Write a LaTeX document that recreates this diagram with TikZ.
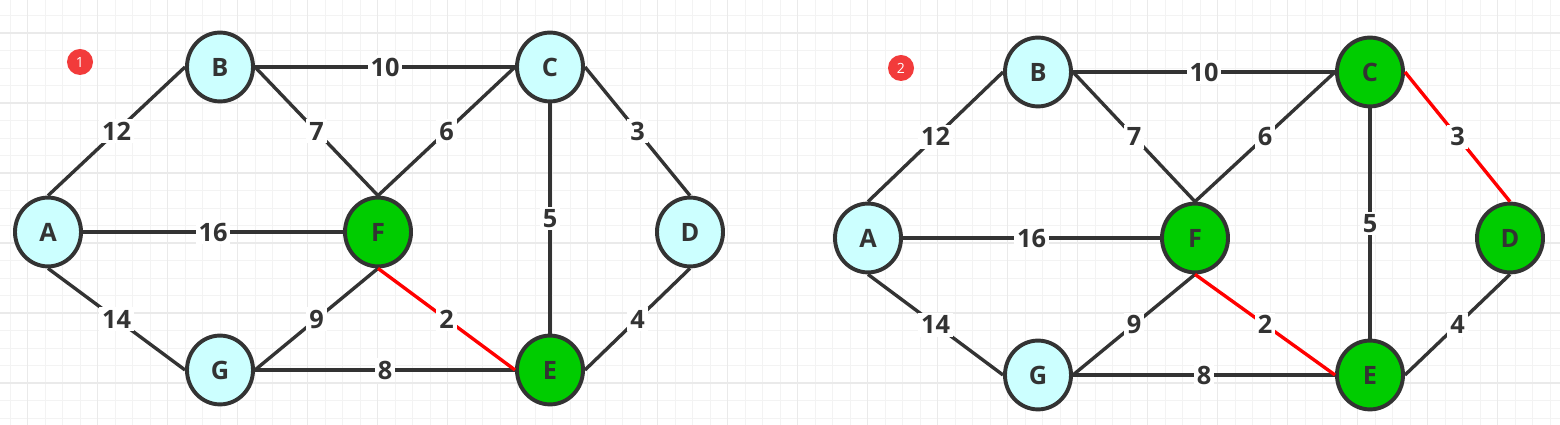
\documentclass[tikz,border=0pt]{standalone}
\usepackage{fontspec}
\setmainfont{Open Sans}
\usetikzlibrary{shapes.geometric}
\definecolor{ink}{HTML}{333333}
\definecolor{cyanfill}{HTML}{CCFFFF}
\definecolor{greenfill}{HTML}{00CC00}
\definecolor{redline}{HTML}{FF0000}
\definecolor{badgered}{HTML}{F23B3B}
\definecolor{gridminor}{HTML}{F3F3F3}
\definecolor{gridmajor}{HTML}{EAEAEA}
\tikzset{
  vertex/.style={ellipse, draw=ink, line width=2.8pt, minimum width=1.65cm, minimum height=1.72cm, inner sep=0pt, text=ink, font=\fontsize{18}{18}\selectfont\bfseries},
  edge/.style={draw=ink, line width=2.4pt},
  weight/.style={fill=white, inner sep=2pt, text=ink, font=\fontsize{18}{18}\selectfont\bfseries},
  badge/.style={circle, fill=badgered, minimum size=0.65cm, inner sep=0pt, text=white, font=\fontsize{10}{10}\selectfont},
  gridthin/.style={draw=gridminor, line width=0.7pt},
  gridthick/.style={draw=gridmajor, line width=1.1pt}
}
\begin{document}
\begin{tikzpicture}[x=0.025cm, y=-0.025cm]
    \useasboundingbox (0,0) rectangle (1560,425);
    % Background grid
    \fill[white] (0,0) rectangle (1560,425);
    \foreach \k in {0,...,88} \draw[gridthin] (10+17.5*\k,0) -- (10+17.5*\k,425);
    \foreach \k in {0,...,23} \draw[gridthin] (0,15.5+17.5*\k) -- (1560,15.5+17.5*\k);
    \foreach \k in {1,5,...,85} \draw[gridthick] (10+17.5*\k,0) -- (10+17.5*\k,425);
    \foreach \k in {1,5,...,21} \draw[gridthick] (0,15.5+17.5*\k) -- (1560,15.5+17.5*\k);
    % Badges
    \node[badge] (badge-1) at (80,62) {1};
    \node[badge] (badge-2) at (901,68) {2};
    % Graph 1 vertices
    \foreach \n/\x/\y/\c in {A/48/232/cyanfill, B/220/67/cyanfill, C/550/67/cyanfill, D/690/232/cyanfill, E/550/370/greenfill, F/378/232/greenfill, G/220/370/cyanfill} \node[vertex, fill=\c] (\n-1) at (\x,\y) {\n};
    % Graph 2 vertices
    \foreach \n/\x/\y/\c in {A/868/238/cyanfill, B/1038/72/cyanfill, C/1370/72/greenfill, D/1510/238/greenfill, E/1370/375/greenfill, F/1195/238/greenfill, G/1038/375/cyanfill} \node[vertex, fill=\c] (\n-2) at (\x,\y) {\n};
    % Edges of both graphs
    \foreach \g/\cd in {1/ink, 2/redline} {
      \foreach \a/\pa/\b/\pb/\w/\col in {A/north/B/west/12/ink, B/east/C/west/10/ink, B/east/F/north/7/ink, C/west/F/north/6/ink, C/east/D/north/3/\cd, C/south/E/north/5/ink, A/east/F/west/16/ink, A/south/G/west/14/ink, G/east/F/south/9/ink, G/east/E/west/8/ink, F/south/E/west/2/redline, E/east/D/south/4/ink}
        \draw[edge, draw=\col] (\a-\g.\pa) -- node[weight] {\w} (\b-\g.\pb);
    }
\end{tikzpicture}
\end{document}
